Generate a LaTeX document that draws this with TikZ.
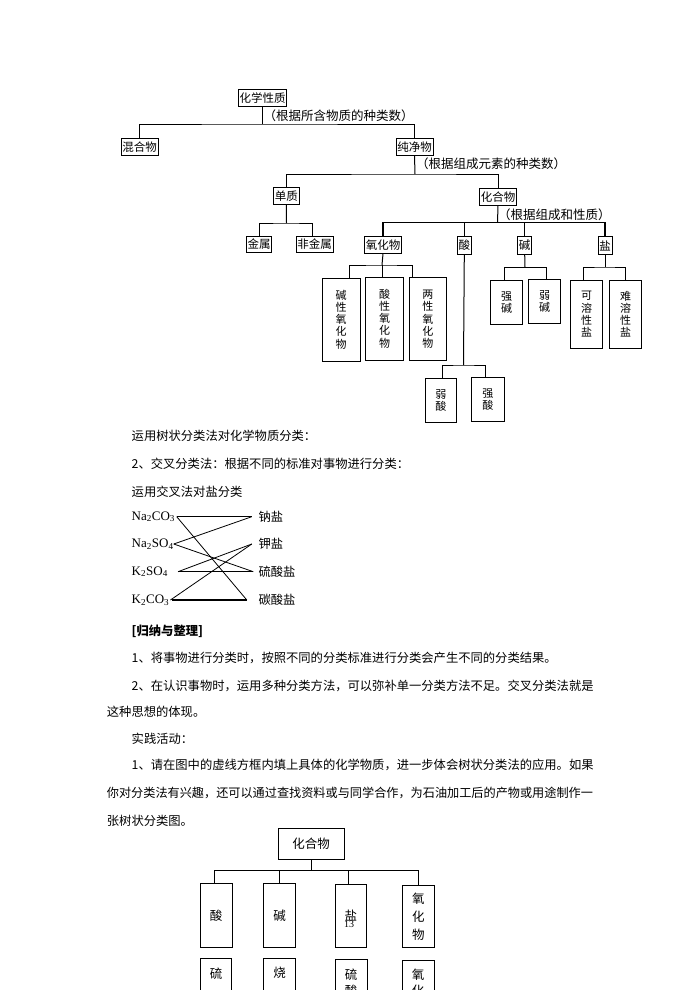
\documentclass[tikz,border=0pt]{standalone}
\usepackage{fontspec}
\setmainfont{Liberation Serif}
\newfontfamily\cjk{Noto Sans CJK SC}
\usepackage{graphicx}
\usepackage{tikz}
\usetikzlibrary{positioning}

\begin{document}
\begin{tikzpicture}[x=1pt,y=-1pt,
box/.style={draw,line width=0.8pt,inner xsep=1.2pt,inner ysep=0pt,minimum height=16.5pt,font=\cjk\fontsize{11.5}{12}\selectfont},
vbox/.style={draw,line width=0.9pt,align=center,inner sep=0pt,font=\cjk\fontsize{11}{12.3}\selectfont},
bbox/.style={draw,line width=0.9pt,align=center,inner sep=0pt,font=\cjk\fontsize{12.5}{18}\selectfont},
note/.style={anchor=west,inner sep=0pt,font=\cjk\fontsize{12.5}{13}\selectfont},
txt/.style={anchor=west,inner sep=0pt,font=\cjk\fontsize{12.3}{13}\selectfont},
chem/.style={anchor=west,inner sep=0pt,font=\fontsize{13}{14}\selectfont},
tree/.style={line width=1pt},
cross/.style={line width=0.8pt}]
\useasboundingbox (0,0) rectangle (700,990);
\clip (0,0) rectangle (700,990);
\fill[white] (0,0) rectangle (700,990);

\node[box] (hxxz) at (262.5,98) {化学性质};
\node[box] (hunhe) at (139.5,147) {混合物};
\node[box] (chunjing) at (414.5,147) {纯净物};
\node[box] (danzhi) at (286.3,195.7) {单质};
\node[box] (huahe) at (498,197) {化合物};
\node[box] (jinshu) at (259,244.3) {金属};
\node[box] (feijin) at (314.5,244.3) {非金属};
\node[box] (yanghua) at (383,245) {氧化物};
\node[box,minimum height=17.3pt] (suan) at (464.3,245.3) {酸};
\node[box,minimum height=17.3pt] (jian) at (524.7,245.5) {碱};
\node[box,minimum height=17.3pt] (yan) at (605,245.5) {盐};
\node[note] (n1) at (263.5,116) {（根据所含物质的种类数）};
\node[note] (n2) at (416,164) {（根据组成元素的种类数）};
\node[note] (n3) at (498,215) {（根据组成和性质）};

\node[vbox,minimum width=37.5pt,minimum height=83pt] (jianxing) at (341.2,319.5) {碱\\性\\氧\\化\\物};
\node[vbox,minimum width=37.5pt,minimum height=83pt] (suanxing) at (384.5,318.5) {酸\\性\\氧\\化\\物};
\node[vbox,minimum width=37.5pt,minimum height=83pt] (liangxing) at (427.8,319.3) {两\\性\\氧\\化\\物};
\node[vbox,minimum width=31.7pt,minimum height=44pt] (ruosuan) at (440.8,400.4) {弱\\酸};
\node[vbox,minimum width=32.3pt,minimum height=44pt] (qiangsuan) at (487.8,399.7) {强\\酸};
\node[vbox,minimum width=31.6pt,minimum height=43.3pt] (qiangjian) at (506.5,302.3) {强\\碱};
\node[vbox,minimum width=32.4pt,minimum height=44pt] (ruojian) at (544.5,301.3) {弱\\碱};
\node[vbox,minimum width=32pt,minimum height=68.3pt] (kerong) at (586.7,314.2) {可\\溶\\性\\盐};
\node[vbox,minimum width=32.4pt,minimum height=68.3pt] (nanrong) at (625.5,314.2) {难\\溶\\性\\盐};

\coordinate (b1) at (262.5,124);
\coordinate (b2) at (415,174);
\coordinate (b3) at (286.5,223);
\coordinate (b4) at (497.5,222.5);
\coordinate (b5) at (382,265);
\coordinate (b6) at (463.5,365);
\coordinate (b7) at (525,267.3);
\coordinate (b8) at (605,267);
\draw[tree] (hxxz.south) -- (b1);
\draw[tree] (hunhe.north) |- (b1) -| (chunjing.north);
\draw[tree] (chunjing.south) -- (b2);
\draw[tree] (danzhi.north) |- (b2) -| (huahe.north);
\draw[tree] (danzhi.south) -- (b3);
\draw[tree] (jinshu.north) |- (b3) -| ([xshift=-2.5pt]feijin.north);
\draw[tree] (huahe.south) -- (b4);
\draw[line width=1.6pt] (yanghua.north) |- (b4) -| (yan.north);
\draw[tree] (suan.north) -- (suan.north |- b4);
\draw[tree] (jian.north) -- (jian.north |- b4);
\draw[tree] (yanghua.south) -- (b5);
\draw[tree] ([xshift=8pt]jianxing.north) |- (b5) -| ([xshift=-15.5pt]liangxing.north);
\draw[tree] (b5) -- (b5 |- suanxing.north);
\draw[tree] (suan.south) -- (b6);
\draw[tree] ([xshift=1.9pt]ruosuan.north) |- (b6) -| ([xshift=-2.1pt]qiangsuan.north);
\draw[tree] (jian.south) -- (b7);
\draw[tree] ([xshift=-2.5pt]qiangjian.north) |- (b7) -| ([xshift=1.5pt]ruojian.north);
\draw[tree] (yan.south) -- (b8);
\draw[tree] ([xshift=-3.4pt]kerong.north) |- (b8) -| (nanrong.north);

\node[txt] (p1) at (131.5,436) {运用树状分类法对化学物质分类：};
\node[txt] (p2) at (131.5,463.3) {2、交叉分类法：根据不同的标准对事物进行分类：};
\node[txt] (p3) at (131.5,491.7) {运用交叉法对盐分类};

\node[chem] (naco) at (131.5,516.7) {Na\textsubscript{2}CO\textsubscript{3}};
\node[chem] (naso) at (131.5,544) {Na\textsubscript{2}SO\textsubscript{4}};
\node[chem] (kso) at (131.5,571.7) {K\textsubscript{2}SO\textsubscript{4}};
\node[chem] (kco) at (131.5,600) {K\textsubscript{2}CO\textsubscript{3}};
\node[txt] (nayan) at (258.3,516.7) {钠盐};
\node[txt] (jiayan) at (258.3,544) {钾盐};
\node[txt] (liusuan) at (258.3,571.7) {硫酸盐};
\node[txt] (tansuan) at (258.3,600) {碳酸盐};
\draw[cross] ([xshift=1.5pt]naco.east) -- ([xshift=-6.5pt]nayan.west);
\draw[cross] ([xshift=1.5pt]naco.east) -- ([xshift=-11.5pt]tansuan.west);
\draw[cross] (naso.east) -- ([xshift=-6.5pt]nayan.west);
\draw[cross] (naso.east) -- ([xshift=-5pt]liusuan.west);
\draw[cross] ([xshift=10pt]kso.east) -- ([xshift=-6.5pt]jiayan.west);
\draw[cross] ([xshift=10pt]kso.east) -- ([xshift=-5pt]liusuan.west);
\draw[cross] ([xshift=1pt]kco.east) -- ([xshift=-6.5pt]jiayan.west);
\draw[line width=1.5pt] ([xshift=2.5pt]kco.east) -- ([xshift=-11.5pt]tansuan.west);

\node[txt,font=\cjk\bfseries\fontsize{12.3}{13}\selectfont] (g0) at (131.5,631.7) {[归纳与整理]};
\node[txt] (g1) at (131.5,658.3) {1、将事物进行分类时，按照不同的分类标准进行分类会产生不同的分类结果。};
\node[txt] (g2) at (131.5,686) {2、在认识事物时，运用多种分类方法，可以弥补单一分类方法不足。交叉分类法就是};
\node[txt] (g3) at (106.7,711.7) {这种思想的体现。};
\node[txt] (g4) at (131.5,738.3) {实践活动：};
\node[txt] (g5) at (131.5,765) {1、请在图中的虚线方框内填上具体的化学物质，进一步体会树状分类法的应用。如果};
\node[txt] (g6) at (106.7,792.7) {\scalebox{0.988}[1]{你对分类法有兴趣，还可以通过查找资料或与同学合作，为石油加工后的产物或用途制作一}};
\node[txt] (g7) at (106.7,820.7) {张树状分类图。};

\node[bbox,minimum width=65.7pt,minimum height=30.7pt] (bhuahe) at (311.2,843.7) {化合物};
\node[bbox,minimum width=32.3pt,minimum height=64.4pt] (bsuan) at (216.2,915.5) {酸};
\node[bbox,minimum width=32.3pt,minimum height=64.4pt] (bjian) at (279.5,915.5) {碱};
\node[bbox,minimum width=31.7pt,minimum height=63.7pt] (byan) at (350.8,915.9) {盐};
\node[bbox,minimum width=32pt,minimum height=62.7pt] (byanghua) at (418.3,916.3) {氧\\化\\物};
\node[inner sep=0pt,font=\fontsize{10}{10}\selectfont] (yema) at (349,924.5) {13};
\coordinate (b9) at (311.2,870.7);
\draw[tree] (bhuahe.south) -- (b9);
\draw[tree] ([xshift=-2.2pt]bsuan.north) |- (b9) -| (byanghua.north);
\draw[tree] (bjian.north) -- (bjian.north |- b9);
\draw[tree] ([xshift=-2.5pt]byan.north) -- ([xshift=-2.5pt]byan.north |- b9);

\node[bbox,anchor=north,minimum width=31pt,minimum height=64pt] (bliu) at (216.2,958.3) {};
\node[bbox,anchor=north,minimum width=32.3pt,minimum height=64pt] (bshao) at (279.5,958.3) {};
\node[bbox,anchor=north,minimum width=32.3pt,minimum height=64pt] (bliusuan) at (351.1,959.3) {};
\node[bbox,anchor=north,minimum width=31.7pt,minimum height=64pt] (byang) at (418.2,960) {};
\node[inner sep=0pt,font=\cjk\fontsize{12.5}{16}\selectfont,align=center,anchor=north] (t1) at ([yshift=-9pt]bliu.north) {硫};
\node[inner sep=0pt,font=\cjk\fontsize{12.5}{16}\selectfont,align=center,anchor=north] (t2) at ([yshift=-9pt]bshao.north) {烧};
\node[inner sep=0pt,font=\cjk\fontsize{12.5}{16}\selectfont,align=center,anchor=north] (t3) at ([yshift=-9pt]bliusuan.north) {硫\\酸};
\node[inner sep=0pt,font=\cjk\fontsize{12.5}{16}\selectfont,align=center,anchor=north] (t4) at ([yshift=-9pt]byang.north) {氧\\化};
\end{tikzpicture}
\end{document}
